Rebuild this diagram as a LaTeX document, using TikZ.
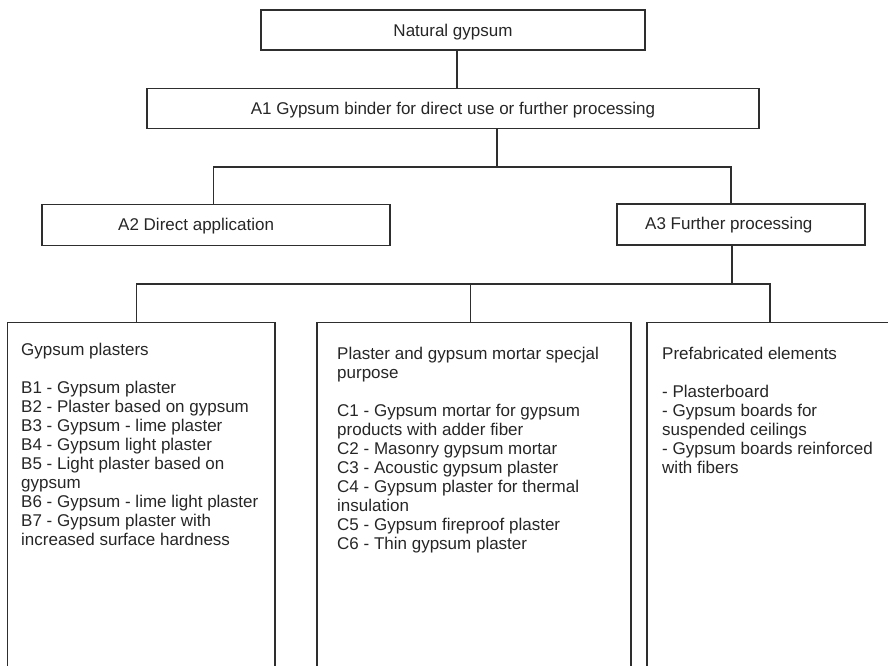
\documentclass[tikz,border=0pt]{standalone}
\usepackage{fontspec}
\setmainfont{Liberation Sans}
\definecolor{linec}{HTML}{2E2E2E}
\definecolor{textc}{HTML}{262626}
\begin{document}
\begin{tikzpicture}[x=1pt,y=-1pt,
  boxst/.style={draw=linec,line width=1.3pt,rectangle,inner sep=0pt,
    text=textc,font=\fontsize{17}{19}\selectfont,text depth=0pt},
  txt/.style={inner sep=0pt,text=textc,font=\fontsize{17}{19}\selectfont,align=left},
  conn/.style={draw=linec,line width=1.3pt}]
\useasboundingbox (0,0) rectangle (888,666);
\clip (0,0) rectangle (888,666);
% top boxes
\node[boxst,minimum width=384pt,minimum height=40pt] (N) at (453,30) {Natural gypsum};
\node[boxst,minimum width=612pt,minimum height=40pt] (A1) at (453,108.5) {A1 Gypsum binder for direct use or further processing};
\node[boxst,minimum width=348pt,minimum height=41pt] (A2) at (216,225.3) {};
\node[boxst,minimum width=248pt,minimum height=41pt] (A3) at (741,224.6) {};
\node[txt,anchor=west,text depth=0pt] (A2t) at (118,224.5) {A2 Direct application};
\node[txt,anchor=west,text depth=0pt] (A3t) at (645,223.5) {A3 Further processing};
% bottom boxes
\node[boxst,minimum width=267.5pt,minimum height=380pt,anchor=north] (B) at (141.25,322) {};
\node[boxst,minimum width=314pt,minimum height=380pt,anchor=north] (C) at (474,322) {};
\node[boxst,minimum width=290pt,minimum height=380pt,anchor=north] (D) at (792,322) {};
% junction coordinates
\coordinate (nj) at (457,70);
\coordinate (j1) at (497,167);
\coordinate (j1l) at (213.5,167);
\coordinate (j1r) at (731,167);
\coordinate (k) at (732,284);
\coordinate (kB) at (136.5,284);
\coordinate (kC) at (470.5,284);
\coordinate (kD) at (770,284);
% connectors
\draw[conn] (N.south -| nj) -- (A1.north -| nj);
\draw[conn] (A1.south -| j1) -- (j1);
\draw[conn] (A2.north -| j1l) -- (j1l) -- (j1r) -- (A3.north -| j1r);
\draw[conn] (A3.south -| k) -- (k);
\draw[conn] (B.north -| kB) -- (kB) -- (kD) -- (D.north -| kD);
\draw[conn] (kC) -- (C.north -| kC);
% texts
\node[txt,anchor=north west] (Bt) at (21,343) {Gypsum plasters\\[19pt]
B1 - Gypsum plaster\\
B2 - Plaster based on gypsum\\
B3 - Gypsum - lime plaster\\
B4 - Gypsum light plaster\\
B5 - Light plaster based on\\
gypsum\\
B6 - Gypsum - lime light plaster\\
B7 - Gypsum plaster with\\
increased surface hardness};
\node[txt,anchor=north west] (Ct) at (337,346.5) {Plaster and gypsum mortar specjal\\
purpose\\[19pt]
C1 - Gypsum mortar for gypsum\\
products with adder fiber\\
C2 - Masonry gypsum mortar\\
C3 - Acoustic gypsum plaster\\
C4 - Gypsum plaster for thermal\\
insulation\\
C5 - Gypsum fireproof plaster\\
C6 - Thin gypsum plaster};
\node[txt,anchor=north west] (Dt) at (662,347) {Prefabricated elements\\[19pt]
- Plasterboard\\
- Gypsum boards for\\
suspended ceilings\\
- Gypsum boards reinforced\\
with fibers};
\end{tikzpicture}
\end{document}
